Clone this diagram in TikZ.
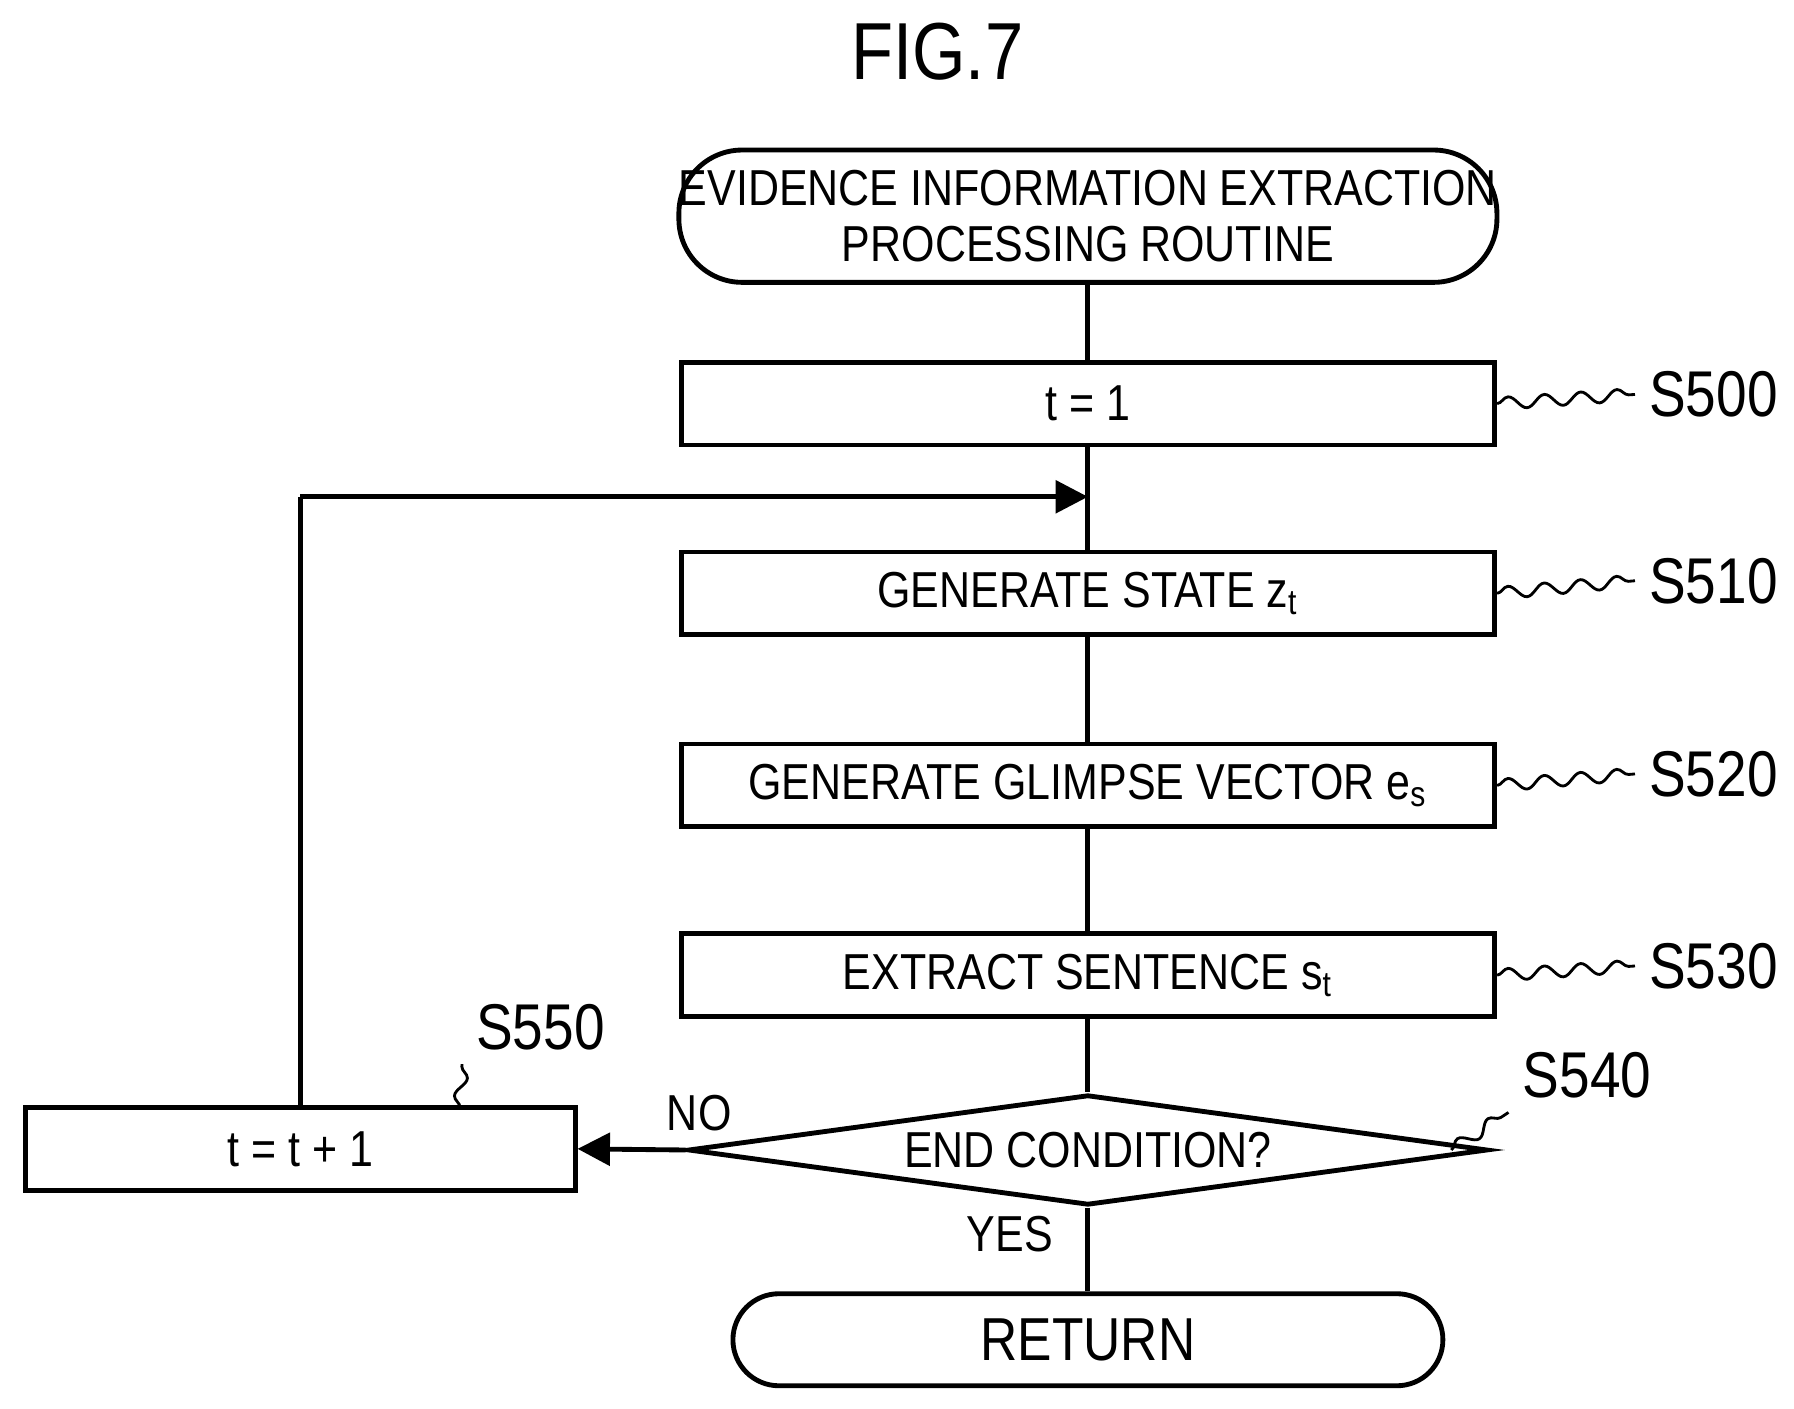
\documentclass[tikz,border=0pt]{standalone}
\usepackage{fontspec}
\setmainfont[FakeStretch=0.85]{Liberation Sans}
\usetikzlibrary{shapes.geometric,arrows.meta,decorations.pathmorphing}
\begin{document}
\begin{tikzpicture}[x=0.01cm,y=-0.01cm,
  every node/.style={font=\fontsize{12.5}{14}\selectfont},
  box/.style={draw,line width=1.2pt,minimum width=7.07cm,minimum height=0.72cm,inner sep=0pt},
  term/.style={draw,line width=1.2pt,inner sep=0pt,align=center},
  ln/.style={line width=1.2pt},
  arr/.style={line width=1.2pt,-{Triangle[length=8pt,width=8pt]}},
  sq/.style={line width=0.7pt,decorate,decoration={snake,amplitude=1.5pt,segment length=9pt}},
  lab/.style={font=\fontsize{16}{18}\selectfont}]
\useasboundingbox (0,0) rectangle (1560,1225);
\node[font=\fontsize{20}{22}\selectfont] (fig) at (815,45) {FIG.7};
\node[term,minimum width=6.95cm,minimum height=1.15cm,rounded corners=0.55cm] (start) at (946,188) {EVIDENCE INFORMATION EXTRACTION\\PROCESSING ROUTINE};
\node[box] (s500) at (946,351) {t = 1};
\node[box] (s510) at (946,516) {GENERATE STATE z\textsubscript{t}};
\node[box] (s520) at (946,683) {GENERATE GLIMPSE VECTOR e\textsubscript{s}};
\node[box] (s530) at (946,848) {EXTRACT SENTENCE s\textsubscript{t}};
\node[diamond,draw,line width=1.2pt,aspect=7.2,minimum width=6.95cm,minimum height=0.96cm,inner sep=0pt] (s540) at (946,1000) {END CONDITION?};
\node[draw,line width=1.2pt,minimum width=4.78cm,minimum height=0.72cm,inner sep=0pt] (s550) at (261,999) {t = t + 1};
\node[term,minimum width=6.17cm,minimum height=0.8cm,rounded corners=0.4cm] (ret) at (946,1165) {\fontsize{15}{17}\selectfont RETURN};
\coordinate (j) at (946,432);
\coordinate (c) at (261,432);
\draw[ln] (start) -- (s500);
\draw[ln] (s500) -- (s510);
\draw[ln] (s510) -- (s520);
\draw[ln] (s520) -- (s530);
\draw[ln] (s530) -- (s540.north);
\draw[ln] (s540.south) -- (ret);
\draw[arr] (s540.west) -- (s550.east);
\draw[ln] (s550.north) -- (c);
\draw[arr] (c) -- (j);
\node (no) at (608,968) {NO};
\node (yes) at (878,1073) {YES};
\node[lab] (l500) at (1490,343) {S500};
\node[lab] (l510) at (1490,505) {S510};
\node[lab] (l520) at (1490,673) {S520};
\node[lab] (l530) at (1490,840) {S530};
\node[lab] (l540) at (1380,935) {S540};
\node[lab] (l550) at (470,893) {S550};
\draw[sq] (s500.east) -- (l500.west);
\draw[sq] (s510.east) -- (l510.west);
\draw[sq] (s520.east) -- (l520.west);
\draw[sq] (s530.east) -- (l530.west);
\draw[sq] (1262,1000) -- (l540.south west);
\draw[sq] (400,963) -- (l550.south west);
\end{tikzpicture}
\end{document}
